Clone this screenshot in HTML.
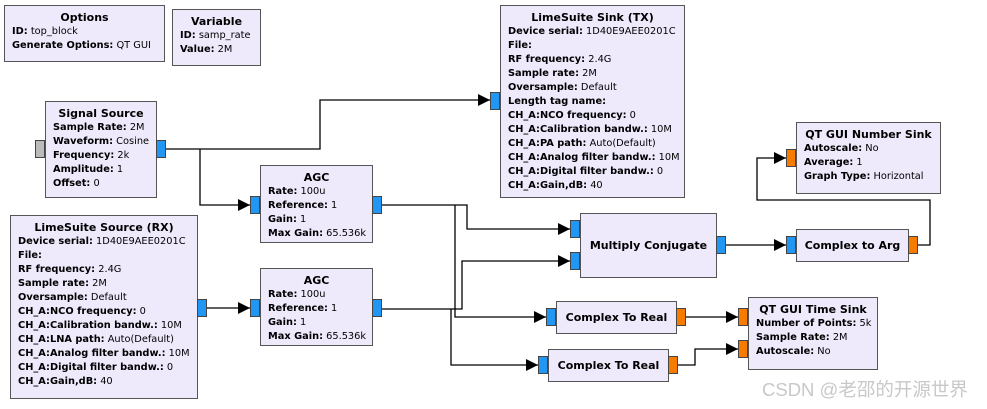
<!DOCTYPE html>
<html><head><meta charset="utf-8"><style>
body{margin:0;width:987px;height:409px;background:#fff;position:relative;overflow:hidden;font-family:"DejaVu Sans","Liberation Sans",sans-serif;font-size:9.8px;color:#000}
.b{position:absolute;background:#eeeafc;border:1px solid #555;box-sizing:border-box;padding:5px 0 0 7px;line-height:14px;white-space:nowrap}
.b .t{text-align:center;font-weight:bold;margin-left:-7px;font-size:11px}
.b b{font-weight:bold}
.c{display:flex;align-items:center;justify-content:center;font-weight:bold;padding:0;font-size:11px}
.p{position:absolute;width:10px;height:18px;box-sizing:border-box;border:1px solid #444;background:#2196f3}
.o{background:#f57c00}
.g{background:#bbb}
svg{position:absolute;left:0;top:0}
.wm{position:absolute;left:762px;top:376px;font-family:"Liberation Sans","Noto Sans CJK SC",sans-serif;font-size:18.5px;color:#c8c8c8;white-space:nowrap}
</style></head><body>
<svg width="987" height="409">
<defs><marker id="a" markerWidth="12" markerHeight="12" refX="12" refY="6" orient="auto" markerUnits="userSpaceOnUse"><path d="M0,0L12,6L0,12z" fill="#000"/></marker></defs>
<g fill="none" stroke="#000" stroke-width="1.3">
<polyline points="166,149 320,149 320,100 490,100" marker-end="url(#a)"/>
<polyline points="200,149 200,205 250,205" marker-end="url(#a)"/>
<polyline points="207,308 250,308" marker-end="url(#a)"/>
<polyline points="382,205 467,205 467,229 570,229" marker-end="url(#a)"/>
<polyline points="455,205 455,317 546,317" marker-end="url(#a)"/>
<polyline points="382,309 462,309 462,261 570,261" marker-end="url(#a)"/>
<polyline points="451,309 451,365 538,365" marker-end="url(#a)"/>
<polyline points="726,245 786,245" marker-end="url(#a)"/>
<polyline points="918,245 930,245 930,200 757,200 757,158 786,158" marker-end="url(#a)"/>
<polyline points="686,317 738,317" marker-end="url(#a)"/>
<polyline points="678,365 695,365 695,349 738,349" marker-end="url(#a)"/>
</g></svg>

<div class="b" style="left:4px;top:5px;width:161px;height:57px"><div class="t">Options</div><b>ID:</b> top_block<br><b>Generate Options:</b> QT GUI</div>
<div class="b" style="left:172px;top:9px;width:89px;height:57px"><div class="t">Variable</div><b>ID:</b> samp_rate<br><b>Value:</b> 2M</div>

<div class="b" style="left:45px;top:101px;width:112px;height:97px"><div class="t">Signal Source</div><b>Sample Rate:</b> 2M<br><b>Waveform:</b> Cosine<br><b>Frequency:</b> 2k<br><b>Amplitude:</b> 1<br><b>Offset:</b> 0</div>
<div class="p g" style="left:35px;top:140px"></div><div class="p" style="left:156px;top:140px"></div>

<div class="b" style="left:260px;top:165px;width:113px;height:78px"><div class="t">AGC</div><b>Rate:</b> 100u<br><b>Reference:</b> 1<br><b>Gain:</b> 1<br><b>Max Gain:</b> 65.536k</div>
<div class="p" style="left:250px;top:196px"></div><div class="p" style="left:372px;top:196px"></div>

<div class="b" style="left:260px;top:268px;width:113px;height:78px"><div class="t">AGC</div><b>Rate:</b> 100u<br><b>Reference:</b> 1<br><b>Gain:</b> 1<br><b>Max Gain:</b> 65.536k</div>
<div class="p" style="left:250px;top:299px"></div><div class="p" style="left:372px;top:299px"></div>

<div class="b" style="left:10px;top:215px;width:188px;height:184px"><div class="t">LimeSuite Source (RX)</div><b>Device serial:</b> 1D40E9AEE0201C<br><b>File:</b><br><b>RF frequency:</b> 2.4G<br><b>Sample rate:</b> 2M<br><b>Oversample:</b> Default<br><b>CH_A:NCO frequency:</b> 0<br><b>CH_A:Calibration bandw.:</b> 10M<br><b>CH_A:LNA path:</b> Auto(Default)<br><b>CH_A:Analog filter bandw.:</b> 10M<br><b>CH_A:Digital filter bandw.:</b> 0<br><b>CH_A:Gain,dB:</b> 40</div>
<div class="p" style="left:197px;top:299px"></div>

<div class="b" style="left:500px;top:5px;width:185px;height:193px"><div class="t">LimeSuite Sink (TX)</div><b>Device serial:</b> 1D40E9AEE0201C<br><b>File:</b><br><b>RF frequency:</b> 2.4G<br><b>Sample rate:</b> 2M<br><b>Oversample:</b> Default<br><b>Length tag name:</b><br><b>CH_A:NCO frequency:</b> 0<br><b>CH_A:Calibration bandw.:</b> 10M<br><b>CH_A:PA path:</b> Auto(Default)<br><b>CH_A:Analog filter bandw.:</b> 10M<br><b>CH_A:Digital filter bandw.:</b> 0<br><b>CH_A:Gain,dB:</b> 40</div>
<div class="p" style="left:490px;top:92px"></div>

<div class="b" style="left:796px;top:122px;width:145px;height:72px"><div class="t">QT GUI Number Sink</div><b>Autoscale:</b> No<br><b>Average:</b> 1<br><b>Graph Type:</b> Horizontal</div>
<div class="p o" style="left:786px;top:149px"></div>

<div class="b c" style="left:580px;top:213px;width:137px;height:65px">Multiply Conjugate</div>
<div class="p" style="left:570px;top:220px"></div><div class="p" style="left:570px;top:252px"></div><div class="p" style="left:716px;top:236px"></div>

<div class="b c" style="left:796px;top:229px;width:113px;height:33px">Complex to Arg</div>
<div class="p" style="left:786px;top:236px"></div><div class="p o" style="left:908px;top:236px"></div>

<div class="b c" style="left:556px;top:301px;width:121px;height:33px">Complex To Real</div>
<div class="p" style="left:546px;top:308px"></div><div class="p o" style="left:676px;top:308px"></div>

<div class="b c" style="left:548px;top:349px;width:121px;height:33px">Complex To Real</div>
<div class="p" style="left:538px;top:356px"></div><div class="p o" style="left:668px;top:356px"></div>

<div class="b" style="left:748px;top:297px;width:130px;height:73px"><div class="t">QT GUI Time Sink</div><b>Number of Points:</b> 5k<br><b>Sample Rate:</b> 2M<br><b>Autoscale:</b> No</div>
<div class="p o" style="left:738px;top:308px"></div><div class="p o" style="left:738px;top:340px"></div>

<div class="wm">CSDN @老邵的开源世界</div>
</body></html>
